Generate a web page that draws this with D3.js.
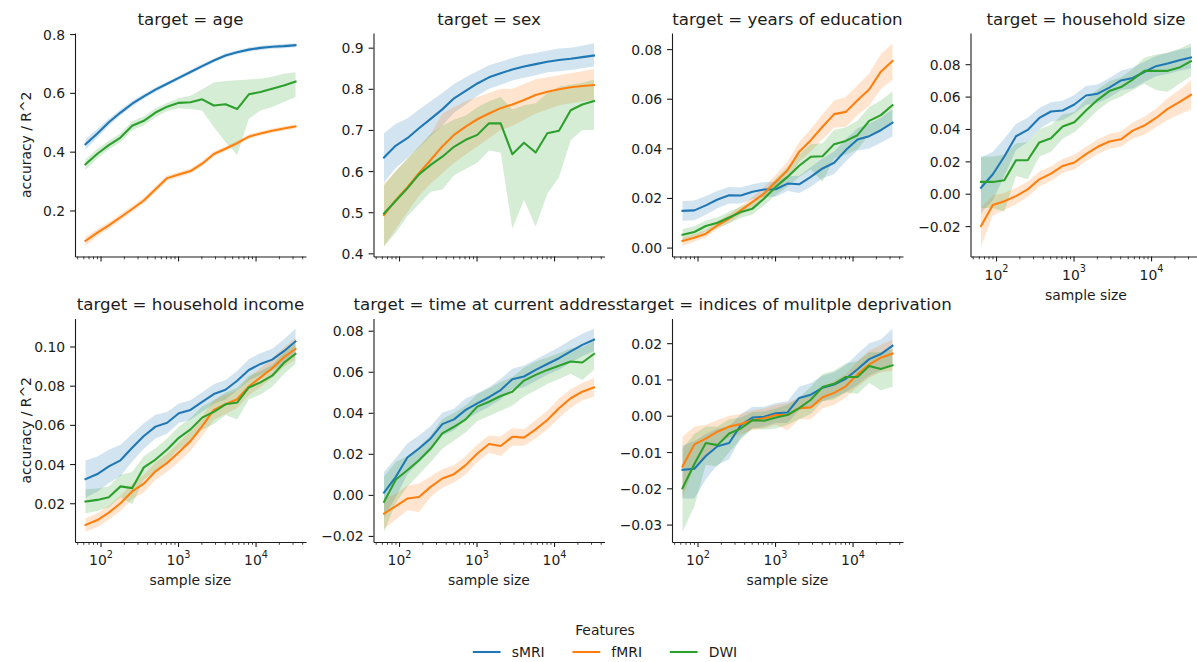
<!DOCTYPE html>
<html>
<head>
<meta charset="utf-8">
<script src="https://cdn.jsdelivr.net/npm/d3@7"></script>
<style>
  html, body { margin: 0; padding: 0; background: #fff; }
  svg { display: block; font-family: "DejaVu Sans", sans-serif; }
</style>
</head>
<body>
<svg id="chart" width="1197" height="662"></svg>
<script>
// ---- data -------------------------------------------------------------
const sampleSizes = [64, 91, 128, 181, 256, 362, 512, 724, 1024, 1448, 2048, 2896, 4096, 5793, 8192, 11585, 16384, 23170, 32768];

const features = ["sMRI", "fMRI", "DWI"];
const featureColors = ["#1f77b4", "#ff7f0e", "#2ca02c"];

const targets = ["age", "sex", "years of education", "household size",
                 "household income", "time at current address", "indices of mulitple deprivation"];

// age
const age_sMRI    = [0.425, 0.462, 0.500, 0.533, 0.563, 0.588, 0.611, 0.631, 0.651, 0.671, 0.691, 0.710, 0.727, 0.738, 0.747, 0.753, 0.757, 0.759, 0.762];
const age_sMRI_lo = [0.407, 0.447, 0.488, 0.523, 0.554, 0.580, 0.603, 0.624, 0.644, 0.664, 0.684, 0.703, 0.720, 0.731, 0.740, 0.746, 0.750, 0.752, 0.755];
const age_sMRI_hi = [0.443, 0.477, 0.512, 0.543, 0.572, 0.596, 0.619, 0.638, 0.658, 0.678, 0.698, 0.717, 0.734, 0.745, 0.754, 0.760, 0.764, 0.766, 0.769];
const age_fMRI    = [0.097, 0.125, 0.149, 0.177, 0.205, 0.234, 0.272, 0.310, 0.322, 0.334, 0.359, 0.392, 0.410, 0.429, 0.451, 0.462, 0.471, 0.479, 0.486];
const age_fMRI_lo = [0.078, 0.113, 0.138, 0.166, 0.195, 0.224, 0.262, 0.301, 0.313, 0.325, 0.350, 0.383, 0.402, 0.421, 0.444, 0.455, 0.464, 0.472, 0.479];
const age_fMRI_hi = [0.111, 0.137, 0.160, 0.188, 0.215, 0.244, 0.282, 0.319, 0.331, 0.343, 0.368, 0.401, 0.418, 0.437, 0.458, 0.469, 0.478, 0.486, 0.493];
const age_DWI     = [0.357, 0.393, 0.422, 0.448, 0.488, 0.505, 0.533, 0.553, 0.566, 0.568, 0.578, 0.557, 0.561, 0.545, 0.595, 0.603, 0.614, 0.625, 0.638];
const age_DWI_lo  = [0.338, 0.377, 0.407, 0.433, 0.473, 0.490, 0.518, 0.538, 0.548, 0.545, 0.540, 0.484, 0.433, 0.389, 0.512, 0.540, 0.552, 0.569, 0.586];
const age_DWI_hi  = [0.374, 0.409, 0.437, 0.463, 0.503, 0.520, 0.548, 0.566, 0.582, 0.590, 0.612, 0.635, 0.640, 0.643, 0.645, 0.648, 0.655, 0.665, 0.670];

// sex
const sex_sMRI    = [0.633, 0.662, 0.680, 0.704, 0.727, 0.750, 0.777, 0.795, 0.813, 0.828, 0.838, 0.847, 0.854, 0.860, 0.866, 0.870, 0.873, 0.877, 0.881];
const sex_sMRI_lo = [0.572, 0.608, 0.632, 0.658, 0.685, 0.710, 0.742, 0.762, 0.783, 0.800, 0.810, 0.820, 0.827, 0.833, 0.840, 0.843, 0.846, 0.850, 0.854];
const sex_sMRI_hi = [0.692, 0.715, 0.728, 0.750, 0.770, 0.790, 0.812, 0.828, 0.843, 0.857, 0.866, 0.875, 0.883, 0.887, 0.893, 0.898, 0.900, 0.905, 0.911];
const sex_fMRI    = [0.493, 0.530, 0.560, 0.595, 0.627, 0.660, 0.688, 0.708, 0.726, 0.740, 0.753, 0.762, 0.773, 0.785, 0.793, 0.799, 0.804, 0.807, 0.809];
const sex_fMRI_lo = [0.417, 0.460, 0.500, 0.540, 0.570, 0.595, 0.620, 0.640, 0.660, 0.680, 0.700, 0.710, 0.725, 0.740, 0.750, 0.760, 0.765, 0.770, 0.772];
const sex_fMRI_hi = [0.570, 0.600, 0.630, 0.660, 0.690, 0.740, 0.755, 0.770, 0.780, 0.790, 0.800, 0.800, 0.812, 0.823, 0.828, 0.833, 0.838, 0.843, 0.848];
const sex_DWI     = [0.497, 0.528, 0.558, 0.592, 0.615, 0.635, 0.659, 0.676, 0.688, 0.716, 0.716, 0.641, 0.669, 0.645, 0.692, 0.698, 0.748, 0.762, 0.770];
const sex_DWI_lo  = [0.417, 0.450, 0.490, 0.520, 0.550, 0.555, 0.590, 0.605, 0.620, 0.650, 0.645, 0.460, 0.530, 0.465, 0.545, 0.585, 0.675, 0.700, 0.700];
const sex_DWI_hi  = [0.565, 0.600, 0.630, 0.660, 0.690, 0.710, 0.725, 0.735, 0.755, 0.770, 0.780, 0.750, 0.760, 0.765, 0.790, 0.805, 0.810, 0.815, 0.822];

// years of education
const edu_sMRI    = [0.0148, 0.0150, 0.0170, 0.0194, 0.0211, 0.0210, 0.0225, 0.0234, 0.0235, 0.0258, 0.0255, 0.0285, 0.0319, 0.0342, 0.0393, 0.0436, 0.0449, 0.0473, 0.0503];
const edu_sMRI_lo = [0.0108, 0.0110, 0.0132, 0.0159, 0.0178, 0.0178, 0.0195, 0.0204, 0.0205, 0.0228, 0.0220, 0.0245, 0.0279, 0.0297, 0.0348, 0.0391, 0.0399, 0.0423, 0.0448];
const edu_sMRI_hi = [0.0188, 0.0190, 0.0208, 0.0229, 0.0244, 0.0242, 0.0255, 0.0264, 0.0265, 0.0288, 0.0290, 0.0325, 0.0359, 0.0387, 0.0438, 0.0481, 0.0499, 0.0523, 0.0558];
const edu_fMRI    = [0.0027, 0.0040, 0.0056, 0.0090, 0.0117, 0.0150, 0.0184, 0.0218, 0.0265, 0.0312, 0.0386, 0.0433, 0.0487, 0.0538, 0.0547, 0.0594, 0.0637, 0.0709, 0.0752];
const edu_fMRI_lo = [0.0005, 0.0025, 0.0041, 0.0075, 0.0100, 0.0132, 0.0164, 0.0193, 0.0235, 0.0277, 0.0346, 0.0388, 0.0437, 0.0483, 0.0487, 0.0534, 0.0572, 0.0639, 0.0677];
const edu_fMRI_hi = [0.0042, 0.0055, 0.0071, 0.0105, 0.0134, 0.0168, 0.0204, 0.0243, 0.0295, 0.0347, 0.0426, 0.0478, 0.0537, 0.0593, 0.0607, 0.0654, 0.0702, 0.0779, 0.0824];
const edu_DWI     = [0.0052, 0.0063, 0.0087, 0.0100, 0.0121, 0.0143, 0.0157, 0.0198, 0.0245, 0.0285, 0.0330, 0.0366, 0.0368, 0.0417, 0.0430, 0.0453, 0.0511, 0.0534, 0.0574];
const edu_DWI_lo  = [0.0030, 0.0040, 0.0065, 0.0078, 0.0098, 0.0120, 0.0133, 0.0170, 0.0212, 0.0245, 0.0285, 0.0315, 0.0265, 0.0360, 0.0375, 0.0395, 0.0455, 0.0475, 0.0510];
const edu_DWI_hi  = [0.0074, 0.0086, 0.0109, 0.0122, 0.0144, 0.0166, 0.0181, 0.0226, 0.0278, 0.0325, 0.0375, 0.0417, 0.0421, 0.0474, 0.0485, 0.0511, 0.0567, 0.0593, 0.0630];

// household size
const hhs_sMRI    = [0.0037, 0.0120, 0.0230, 0.0355, 0.0394, 0.0468, 0.0508, 0.0514, 0.0551, 0.0607, 0.0618, 0.0655, 0.0700, 0.0715, 0.0752, 0.0788, 0.0804, 0.0825, 0.0841];
const hhs_sMRI_lo = [-0.0120, -0.0040, 0.0110, 0.0270, 0.0320, 0.0400, 0.0445, 0.0455, 0.0495, 0.0550, 0.0560, 0.0595, 0.0640, 0.0650, 0.0690, 0.0725, 0.0740, 0.0760, 0.0775];
const hhs_sMRI_hi = [0.0224, 0.0260, 0.0340, 0.0430, 0.0470, 0.0530, 0.0565, 0.0575, 0.0610, 0.0665, 0.0675, 0.0715, 0.0760, 0.0780, 0.0815, 0.0850, 0.0870, 0.0890, 0.0905];
const hhs_fMRI    = [-0.0200, -0.0070, -0.0046, -0.0015, 0.0027, 0.0089, 0.0124, 0.0172, 0.0193, 0.0245, 0.0290, 0.0323, 0.0336, 0.0390, 0.0421, 0.0468, 0.0524, 0.0566, 0.0611];
const hhs_fMRI_lo = [-0.0325, -0.0135, -0.0100, -0.0065, -0.0020, 0.0045, 0.0080, 0.0130, 0.0150, 0.0200, 0.0245, 0.0278, 0.0290, 0.0340, 0.0365, 0.0410, 0.0455, 0.0490, 0.0520];
const hhs_fMRI_hi = [-0.0087, -0.0010, 0.0005, 0.0035, 0.0075, 0.0135, 0.0170, 0.0215, 0.0240, 0.0290, 0.0335, 0.0370, 0.0385, 0.0440, 0.0475, 0.0525, 0.0590, 0.0640, 0.0700];
const hhs_DWI     = [0.0073, 0.0073, 0.0083, 0.0207, 0.0207, 0.0317, 0.0342, 0.0415, 0.0441, 0.0514, 0.0580, 0.0634, 0.0659, 0.0705, 0.0759, 0.0759, 0.0759, 0.0779, 0.0819];
const hhs_DWI_lo  = [-0.0087, -0.0090, -0.0110, 0.0110, 0.0090, 0.0230, 0.0260, 0.0340, 0.0380, 0.0445, 0.0515, 0.0570, 0.0600, 0.0640, 0.0680, 0.0640, 0.0630, 0.0680, 0.0725];
const hhs_DWI_hi  = [0.0230, 0.0230, 0.0240, 0.0310, 0.0320, 0.0400, 0.0425, 0.0490, 0.0505, 0.0585, 0.0645, 0.0695, 0.0720, 0.0770, 0.0840, 0.0860, 0.0870, 0.0895, 0.0930];

// household income
const inc_sMRI    = [0.0323, 0.0349, 0.0388, 0.0419, 0.0483, 0.0543, 0.0591, 0.0611, 0.0659, 0.0676, 0.0717, 0.0757, 0.0779, 0.0825, 0.0880, 0.0911, 0.0933, 0.0976, 0.1026];
const inc_sMRI_lo = [0.0228, 0.0259, 0.0303, 0.0339, 0.0413, 0.0478, 0.0531, 0.0556, 0.0609, 0.0626, 0.0667, 0.0707, 0.0729, 0.0775, 0.0825, 0.0856, 0.0878, 0.0916, 0.0961];
const inc_sMRI_hi = [0.0418, 0.0439, 0.0473, 0.0499, 0.0553, 0.0608, 0.0651, 0.0666, 0.0709, 0.0726, 0.0767, 0.0807, 0.0829, 0.0875, 0.0935, 0.0966, 0.0988, 0.1036, 0.1091];
const inc_fMRI    = [0.0089, 0.0114, 0.0152, 0.0200, 0.0260, 0.0300, 0.0363, 0.0406, 0.0460, 0.0517, 0.0594, 0.0676, 0.0705, 0.0731, 0.0796, 0.0842, 0.0889, 0.0945, 0.0988];
const inc_fMRI_lo = [0.0054, 0.0079, 0.0117, 0.0160, 0.0220, 0.0255, 0.0318, 0.0361, 0.0410, 0.0467, 0.0544, 0.0626, 0.0655, 0.0686, 0.0751, 0.0792, 0.0839, 0.0895, 0.0933];
const inc_fMRI_hi = [0.0124, 0.0149, 0.0187, 0.0240, 0.0300, 0.0345, 0.0408, 0.0451, 0.0510, 0.0567, 0.0644, 0.0726, 0.0755, 0.0776, 0.0841, 0.0892, 0.0939, 0.0995, 0.1043];
const inc_DWI     = [0.0209, 0.0217, 0.0231, 0.0286, 0.0277, 0.0383, 0.0423, 0.0474, 0.0534, 0.0577, 0.0637, 0.0666, 0.0705, 0.0714, 0.0791, 0.0817, 0.0851, 0.0916, 0.0962];
const inc_DWI_lo  = [0.0149, 0.0160, 0.0180, 0.0230, 0.0195, 0.0320, 0.0365, 0.0415, 0.0475, 0.0515, 0.0575, 0.0605, 0.0650, 0.0628, 0.0730, 0.0755, 0.0795, 0.0860, 0.0910];
const inc_DWI_hi  = [0.0272, 0.0275, 0.0285, 0.0345, 0.0360, 0.0440, 0.0480, 0.0530, 0.0590, 0.0635, 0.0695, 0.0725, 0.0765, 0.0790, 0.0850, 0.0875, 0.0905, 0.0970, 0.1015];

// time at current address
const adr_sMRI    = [0.0011, 0.0088, 0.0182, 0.0226, 0.0275, 0.0345, 0.0368, 0.0414, 0.0446, 0.0476, 0.0511, 0.0564, 0.0577, 0.0609, 0.0638, 0.0666, 0.0699, 0.0731, 0.0756];
const adr_sMRI_lo = [-0.0110, -0.0010, 0.0100, 0.0160, 0.0215, 0.0290, 0.0315, 0.0365, 0.0400, 0.0430, 0.0465, 0.0515, 0.0525, 0.0555, 0.0585, 0.0610, 0.0645, 0.0675, 0.0700];
const adr_sMRI_hi = [0.0112, 0.0180, 0.0250, 0.0290, 0.0335, 0.0400, 0.0420, 0.0470, 0.0495, 0.0525, 0.0565, 0.0615, 0.0630, 0.0660, 0.0690, 0.0720, 0.0755, 0.0785, 0.0810];
const adr_fMRI    = [-0.0091, -0.0055, -0.0018, -0.0010, 0.0039, 0.0080, 0.0101, 0.0145, 0.0202, 0.0248, 0.0238, 0.0283, 0.0279, 0.0319, 0.0365, 0.0422, 0.0471, 0.0503, 0.0524];
const adr_fMRI_lo = [-0.0165, -0.0120, -0.0075, -0.0083, -0.0010, 0.0035, 0.0060, 0.0100, 0.0160, 0.0205, 0.0190, 0.0240, 0.0240, 0.0275, 0.0320, 0.0375, 0.0425, 0.0460, 0.0480];
const adr_fMRI_hi = [-0.0020, 0.0005, 0.0045, 0.0055, 0.0090, 0.0125, 0.0145, 0.0190, 0.0245, 0.0290, 0.0285, 0.0325, 0.0320, 0.0365, 0.0410, 0.0470, 0.0515, 0.0545, 0.0570];
const adr_DWI     = [-0.0034, 0.0075, 0.0120, 0.0169, 0.0226, 0.0300, 0.0332, 0.0368, 0.0430, 0.0454, 0.0482, 0.0503, 0.0557, 0.0585, 0.0609, 0.0629, 0.0650, 0.0645, 0.0687];
const adr_DWI_lo  = [-0.0180, -0.0040, 0.0040, 0.0100, 0.0160, 0.0225, 0.0265, 0.0305, 0.0360, 0.0385, 0.0410, 0.0435, 0.0480, 0.0510, 0.0540, 0.0565, 0.0590, 0.0560, 0.0610];
const adr_DWI_hi  = [0.0090, 0.0160, 0.0190, 0.0235, 0.0290, 0.0370, 0.0400, 0.0435, 0.0490, 0.0520, 0.0550, 0.0575, 0.0620, 0.0650, 0.0670, 0.0690, 0.0715, 0.0720, 0.0750];

// indices of multiple deprivation
const imd_sMRI    = [-0.0149, -0.0146, -0.0111, -0.0084, -0.0075, -0.0026, -0.0005, -0.0003, 0.0007, 0.0009, 0.0049, 0.0058, 0.0077, 0.0086, 0.0102, 0.0128, 0.0156, 0.0170, 0.0193];
const imd_sMRI_lo = [-0.0228, -0.0228, -0.0175, -0.0135, -0.0120, -0.0060, -0.0035, -0.0030, -0.0020, -0.0020, 0.0015, 0.0025, 0.0040, 0.0050, 0.0065, 0.0085, 0.0110, 0.0125, 0.0145];
const imd_sMRI_hi = [-0.0082, -0.0070, -0.0050, -0.0035, -0.0030, 0.0005, 0.0025, 0.0025, 0.0035, 0.0040, 0.0080, 0.0090, 0.0110, 0.0120, 0.0140, 0.0170, 0.0200, 0.0210, 0.0240];
const imd_fMRI    = [-0.0140, -0.0079, -0.0063, -0.0044, -0.0030, -0.0023, -0.0012, -0.0007, 0.0002, 0.0002, 0.0021, 0.0023, 0.0051, 0.0063, 0.0081, 0.0114, 0.0141, 0.0160, 0.0171];
const imd_fMRI_lo = [-0.0226, -0.0140, -0.0110, -0.0080, -0.0060, -0.0050, -0.0040, -0.0035, -0.0025, -0.0040, -0.0010, -0.0010, 0.0020, 0.0030, 0.0050, 0.0080, 0.0105, 0.0120, 0.0125];
const imd_fMRI_hi = [-0.0058, -0.0030, -0.0025, -0.0012, 0.0000, 0.0005, 0.0015, 0.0020, 0.0030, 0.0035, 0.0050, 0.0055, 0.0080, 0.0095, 0.0115, 0.0150, 0.0180, 0.0195, 0.0210];
const imd_DWI     = [-0.0200, -0.0133, -0.0075, -0.0081, -0.0049, -0.0035, -0.0012, -0.0014, -0.0005, 0.0002, 0.0021, 0.0044, 0.0079, 0.0088, 0.0107, 0.0107, 0.0137, 0.0129, 0.0139];
const imd_DWI_lo  = [-0.0320, -0.0250, -0.0135, -0.0140, -0.0100, -0.0065, -0.0035, -0.0038, -0.0035, -0.0025, -0.0010, 0.0005, 0.0040, 0.0045, 0.0065, 0.0060, 0.0090, 0.0070, 0.0080];
const imd_DWI_hi  = [-0.0091, -0.0050, -0.0030, -0.0030, -0.0010, -0.0005, 0.0010, 0.0012, 0.0020, 0.0030, 0.0050, 0.0080, 0.0115, 0.0125, 0.0145, 0.0150, 0.0175, 0.0175, 0.0183];

// y tick values per panel
const ageTicks = [0.2, 0.4, 0.6, 0.8];
const sexTicks = [0.4, 0.5, 0.6, 0.7, 0.8, 0.9];
const eduTicks = [0.00, 0.02, 0.04, 0.06, 0.08];
const hhsTicks = [-0.02, 0.00, 0.02, 0.04, 0.06, 0.08];
const incTicks = [0.02, 0.04, 0.06, 0.08, 0.10];
const adrTicks = [-0.02, 0.00, 0.02, 0.04, 0.06, 0.08];
const imdTicks = [-0.03, -0.02, -0.01, 0.00, 0.01, 0.02];
const xMajorTicks = [100, 1000, 10000];

// ---- assemble panels ------------------------------------------------------
const panelSeries = [
  [[age_sMRI, age_sMRI_lo, age_sMRI_hi], [age_fMRI, age_fMRI_lo, age_fMRI_hi], [age_DWI, age_DWI_lo, age_DWI_hi]],
  [[sex_sMRI, sex_sMRI_lo, sex_sMRI_hi], [sex_fMRI, sex_fMRI_lo, sex_fMRI_hi], [sex_DWI, sex_DWI_lo, sex_DWI_hi]],
  [[edu_sMRI, edu_sMRI_lo, edu_sMRI_hi], [edu_fMRI, edu_fMRI_lo, edu_fMRI_hi], [edu_DWI, edu_DWI_lo, edu_DWI_hi]],
  [[hhs_sMRI, hhs_sMRI_lo, hhs_sMRI_hi], [hhs_fMRI, hhs_fMRI_lo, hhs_fMRI_hi], [hhs_DWI, hhs_DWI_lo, hhs_DWI_hi]],
  [[inc_sMRI, inc_sMRI_lo, inc_sMRI_hi], [inc_fMRI, inc_fMRI_lo, inc_fMRI_hi], [inc_DWI, inc_DWI_lo, inc_DWI_hi]],
  [[adr_sMRI, adr_sMRI_lo, adr_sMRI_hi], [adr_fMRI, adr_fMRI_lo, adr_fMRI_hi], [adr_DWI, adr_DWI_lo, adr_DWI_hi]],
  [[imd_sMRI, imd_sMRI_lo, imd_sMRI_hi], [imd_fMRI, imd_fMRI_lo, imd_fMRI_hi], [imd_DWI, imd_DWI_lo, imd_DWI_hi]]
];
const panelTicks = [ageTicks, sexTicks, eduTicks, hhsTicks, incTicks, adrTicks, imdTicks];
const panelFormats = [".1f", ".1f", ".2f", ".2f", ".2f", ".2f", ".2f"];

// ---- layout -------------------------------------------------------------
const svg = d3.select("#chart");
const ink = "#1c1c1c";
const tickFont = 13.9, titleFont = 16.67;
const colW = 231, rowH = 223.5;
const colX = c => 75 + c * 298.5;
const rowY = r => [33, 318.5][r];
const nCols = 4;

// shared log x scale with 5% margins in log space
const logExt = d3.extent(sampleSizes, d => Math.log10(d));
const logPad = (logExt[1] - logExt[0]) * 0.05;
const x = d3.scaleLog()
  .domain([Math.pow(10, logExt[0] - logPad), Math.pow(10, logExt[1] + logPad)])
  .range([0, colW]);

const minusFmt = f => v => d3.format(f)(v).replace("-", "\u2212");

panelSeries.forEach((series, i) => {
  const col = i % nCols, row = Math.floor(i / nCols);
  const g = svg.append("g").attr("transform", `translate(${colX(col)},${rowY(row)})`);

  // y extent from all bands with 5% padding
  const all = series.flatMap(s => s[1].concat(s[2]));
  const [lo, hi] = d3.extent(all);
  const pad = (hi - lo) * 0.05;
  const y = d3.scaleLinear().domain([lo - pad, hi + pad]).range([rowH, 0]);

  const rows = series.map(s => sampleSizes.map((n, k) => ({ n, m: s[0][k], lo: s[1][k], hi: s[2][k] })));

  // confidence bands (drawn beneath all lines)
  const area = d3.area().x(d => x(d.n)).y0(d => y(d.lo)).y1(d => y(d.hi));
  rows.forEach((r, j) => {
    g.append("path").attr("d", area(r))
      .attr("fill", featureColors[j]).attr("fill-opacity", 0.2).attr("stroke", "none");
  });
  // mean lines
  const line = d3.line().x(d => x(d.n)).y(d => y(d.m));
  rows.forEach((r, j) => {
    g.append("path").attr("d", line(r))
      .attr("fill", "none").attr("stroke", featureColors[j])
      .attr("stroke-width", 2.08).attr("stroke-linejoin", "round").attr("stroke-linecap", "square");
  });

  // y axis
  const yAxis = d3.axisLeft(y).tickValues(panelTicks[i]).tickFormat(minusFmt(panelFormats[i]))
    .tickSize(4.9).tickSizeOuter(0).tickPadding(4.9);
  const ya = g.append("g").call(yAxis);
  ya.select(".domain").attr("stroke", ink).attr("stroke-width", 1.1);
  ya.selectAll(".tick line").attr("stroke", ink).attr("stroke-width", 1.1);
  ya.selectAll(".tick text").attr("fill", ink).attr("font-size", tickFont)
    .attr("font-family", "DejaVu Sans").attr("dy", "0.36em");

  // x axis: minor ticks
  const minor = x.ticks().filter(v => !xMajorTicks.includes(v));
  const xMinor = d3.axisBottom(x).tickValues(minor).tickFormat("").tickSize(2.8).tickSizeOuter(0);
  const xm = g.append("g").attr("transform", `translate(0,${rowH})`).call(xMinor);
  xm.select(".domain").remove();
  xm.selectAll(".tick line").attr("stroke", ink).attr("stroke-width", 0.83);

  // x axis: major ticks
  const showXLabels = (row === 1) || (i + nCols >= panelSeries.length);
  const xAxis = d3.axisBottom(x).tickValues(xMajorTicks).tickFormat("").tickSize(4.9).tickSizeOuter(0);
  const xa = g.append("g").attr("transform", `translate(0,${rowH})`).call(xAxis);
  xa.select(".domain").attr("stroke", ink).attr("stroke-width", 1.1);
  xa.selectAll(".tick line").attr("stroke", ink).attr("stroke-width", 1.1);
  xa.selectAll(".tick text").remove();
  if (showXLabels) {
    xa.selectAll(".tick").each(function (d) {
      const t = d3.select(this).append("text")
        .attr("fill", ink).attr("font-size", tickFont).attr("font-family", "DejaVu Sans")
        .attr("text-anchor", "middle").attr("y", 23.3);
      t.append("tspan").text("10");
      t.append("tspan").attr("font-size", 9.7).attr("dy", -7.6).text(String(Math.round(Math.log10(d))));
    });
    g.append("text").attr("x", colW / 2).attr("y", rowH + 43)
      .attr("text-anchor", "middle").attr("fill", ink).attr("font-size", tickFont)
      .text("sample size");
  }

  // y label on first column
  if (col === 0) {
    g.append("text")
      .attr("transform", `translate(${-44},${rowH / 2}) rotate(-90)`)
      .attr("text-anchor", "middle").attr("fill", ink).attr("font-size", tickFont)
      .text("accuracy / R^2");
  }

  // facet title
  g.append("text").attr("x", colW / 2).attr("y", -8.5)
    .attr("text-anchor", "middle").attr("fill", ink).attr("font-size", titleFont)
    .text(`target = ${targets[i]}`);
});

// ---- legend -------------------------------------------------------------
const legendCx = 605;
const lg = svg.append("g");
lg.append("text").attr("x", legendCx).attr("y", 635)
  .attr("text-anchor", "middle").attr("fill", ink).attr("font-size", tickFont).text("Features");

const handleLen = 27.8, handlePad = 11.1, colGap = 27.8;
const items = lg.selectAll("g.item").data(features).join("g").attr("class", "item");
items.append("line").attr("x1", 0).attr("x2", handleLen).attr("y1", 652).attr("y2", 652)
  .attr("stroke", (d, j) => featureColors[j]).attr("stroke-width", 2.08);
items.append("text").attr("x", handleLen + handlePad).attr("y", 656.8)
  .attr("fill", ink).attr("font-size", tickFont).text(d => d);
const widths = [];
items.each(function () { widths.push(handleLen + handlePad + d3.select(this).select("text").node().getComputedTextLength()); });
const total = d3.sum(widths) + colGap * (widths.length - 1);
let cursor = legendCx - total / 2;
items.each(function (d, j) {
  d3.select(this).attr("transform", `translate(${cursor},0)`);
  cursor += widths[j] + colGap;
});
</script>
</body>
</html>
